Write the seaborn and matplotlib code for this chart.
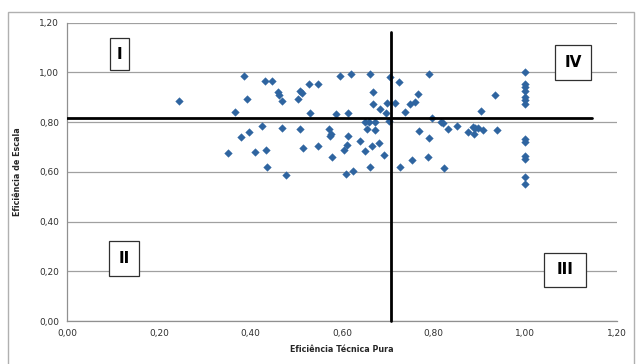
import numpy as np
import pandas as pd
import matplotlib
matplotlib.use("Agg")
import matplotlib.pyplot as plt
import seaborn as sns
from matplotlib.patches import Rectangle
from matplotlib.ticker import FuncFormatter

# Eficiência técnica pura (eixo x) e eficiência de escala (eixo y)
eficiencia_tecnica = [
    0.245, 0.386, 0.432, 0.447, 0.392, 0.367, 0.461, 0.463, 0.425, 0.396,
    0.380, 0.352, 0.410, 0.434, 0.437, 0.469, 0.509, 0.512, 0.504, 0.528,
    0.547, 0.595, 0.619, 0.662, 0.668, 0.667, 0.683, 0.699, 0.697, 0.530,
    0.586, 0.612, 0.469, 0.509, 0.571, 0.576, 0.574, 0.612, 0.640, 0.611,
    0.605, 0.650, 0.665, 0.680, 0.692, 0.514, 0.547, 0.577, 0.651, 0.659,
    0.672, 0.654, 0.672, 0.662, 0.477, 0.609, 0.624, 0.703, 0.705, 0.724,
    0.790, 0.716, 0.737, 0.748, 0.760, 0.766, 0.797, 0.817, 0.821, 0.831,
    0.852, 0.874, 0.885, 0.891, 0.889, 0.896, 0.907, 0.939, 0.903, 0.935,
    0.768, 0.789, 0.788, 0.753, 0.727, 0.822,
    1.0, 1.0, 1.0, 1.0, 1.0, 1.0, 1.0, 1.0, 1.0, 1.0, 1.0, 1.0, 1.0,
]
eficiencia_escala = [
    0.885, 0.987, 0.967, 0.967, 0.893, 0.841, 0.920, 0.910, 0.786, 0.759,
    0.741, 0.676, 0.679, 0.689, 0.621, 0.885, 0.925, 0.918, 0.892, 0.952,
    0.955, 0.985, 0.992, 0.995, 0.921, 0.874, 0.852, 0.876, 0.835, 0.835,
    0.831, 0.838, 0.776, 0.774, 0.774, 0.752, 0.744, 0.743, 0.725, 0.707,
    0.688, 0.685, 0.705, 0.716, 0.668, 0.695, 0.705, 0.661, 0.802, 0.802,
    0.802, 0.772, 0.768, 0.621, 0.587, 0.593, 0.603, 0.805, 0.980, 0.960,
    0.995, 0.878, 0.841, 0.873, 0.881, 0.913, 0.818, 0.800, 0.795, 0.774,
    0.786, 0.759, 0.779, 0.776, 0.753, 0.775, 0.768, 0.768, 0.845, 0.909,
    0.766, 0.735, 0.661, 0.649, 0.621, 0.615,
    1.000, 0.953, 0.940, 0.926, 0.902, 0.889, 0.873, 0.731, 0.719, 0.662,
    0.652, 0.578, 0.550,
]

# Linhas de corte dos quadrantes
corte_tecnica = 0.707
corte_escala = 0.818

quadrantes = ["I", "II", "III", "IV"]
ticks = [0.0, 0.2, 0.4, 0.6, 0.8, 1.0, 1.2]

dados = pd.DataFrame({"tecnica": eficiencia_tecnica, "escala": eficiencia_escala})

sns.set_style("white")
plt.rcParams["font.family"] = ["DejaVu Sans"]

fig = plt.figure(figsize=(6.36, 3.64), dpi=100)
ax = fig.add_axes([0.1058, 0.118, 0.864, 0.8196])

# moldura externa do gráfico
fig.patches.append(Rectangle((0.0126, -0.01), 0.984, 0.977, transform=fig.transFigure,
                             fill=False, edgecolor="#b0b0b0", linewidth=1.0))

sns.scatterplot(data=dados, x="tecnica", y="escala", marker="D", s=15,
                color="#2e64a0", edgecolor="#2e64a0", linewidth=0.3, ax=ax, zorder=3)

ax.set_xlim(0, 1.2)
ax.set_ylim(0, 1.2)
ax.set_xticks(ticks)
ax.set_yticks(ticks)
fmt = FuncFormatter(lambda v, p: f"{v:.2f}".replace(".", ","))
ax.xaxis.set_major_formatter(fmt)
ax.yaxis.set_major_formatter(fmt)
ax.tick_params(axis="both", labelsize=6.5, colors="#303030", length=0, pad=6)

ax.yaxis.grid(True, color="#a0a0a0", linewidth=0.9)
ax.xaxis.grid(False)
for lado in ["top", "right"]:
    ax.spines[lado].set_visible(False)
for lado in ["left", "bottom"]:
    ax.spines[lado].set_color("#909090")
    ax.spines[lado].set_linewidth(0.9)

ax.set_xlabel("Eficiência Técnica Pura", fontsize=5.8, fontweight="bold", labelpad=5)
ax.set_ylabel("Eficiência de Escala", fontsize=5.8, fontweight="bold", labelpad=12)

# linhas de corte
ax.plot([0, 1.146], [corte_escala, corte_escala], color="black", linewidth=2.0, zorder=4)
ax.plot([corte_tecnica, corte_tecnica], [0, 1.161], color="black", linewidth=2.0, zorder=4,
        clip_on=False)

# caixas dos quadrantes
caixas = {
    "I": (0.0935, 1.010, 0.0415, 0.128),
    "II": (0.091, 0.181, 0.066, 0.141),
    "III": (1.041, 0.137, 0.091, 0.137),
    "IV": (1.065, 0.969, 0.078, 0.141),
}
for nome in quadrantes:
    x0, y0, w, h = caixas[nome]
    ax.add_patch(Rectangle((x0, y0), w, h, facecolor="white", edgecolor="#303030",
                           linewidth=0.9, zorder=5))
    ax.text(x0 + w / 2, y0 + h / 2, nome, ha="center", va="center", fontsize=11,
            fontweight="bold", color="black", zorder=6)

fig.savefig("out.png", dpi=100)
